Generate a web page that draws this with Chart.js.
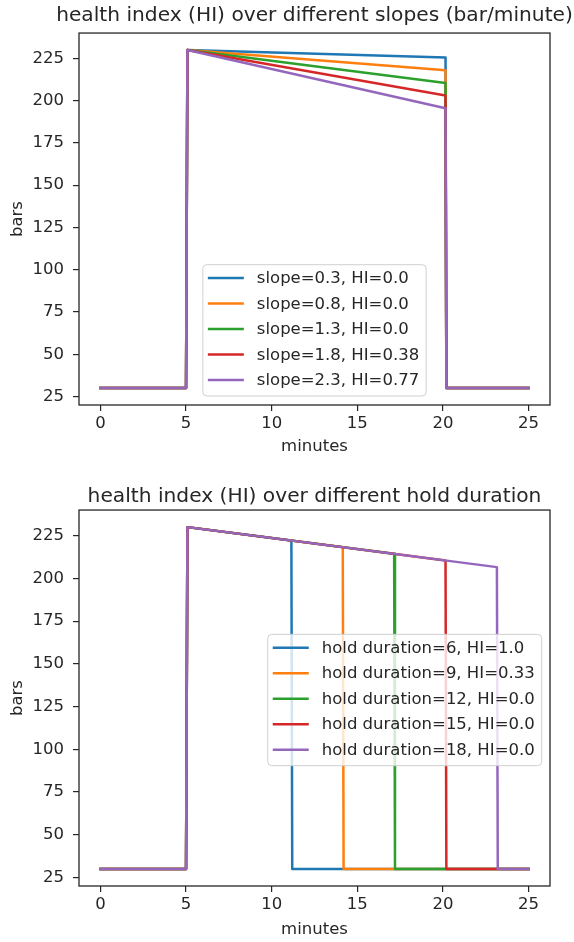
<!DOCTYPE html>
<html>
<head>
<meta charset="utf-8">
<title>health index (HI)</title>
<script src="https://cdn.jsdelivr.net/npm/chart.js@4"></script>
<style>
  html, body { margin: 0; padding: 0; background: #fff; }
  canvas { display: block; }
</style>
</head>
<body>
<canvas id="slopeChart" width="574" height="471"></canvas>
<canvas id="holdChart" width="574" height="471"></canvas>
<script>
// ---- data ----
const baseBars = 30            // bars before and after the hold
const peakBars = 230           // bars at the start of the hold
const riseMinutes = [5, 5.08]  // pressure goes up here

// top chart: different slopes
const slopes = [0.3, 0.8, 1.3, 1.8, 2.3]
const slopeHI = ['0.0', '0.0', '0.0', '0.38', '0.77']
const slopeEndBars = [225.5, 218, 210.5, 203, 195.5]
const slopeEndMinutes = [20.15, 20.15, 20.15, 20.15, 20.15]
const slopeDropMinutes = [20.2, 20.2, 20.2, 20.2, 20.2]

// bottom chart: different hold durations (slope 1.3)
const holdDurations = [6, 9, 12, 15, 18]
const holdHI = ['1.0', '0.33', '0.0', '0.0', '0.0']
const holdEndBars = [222.2, 218.3, 214.4, 210.5, 206.6]
const holdEndMinutes = [11.15, 14.15, 17.15, 20.15, 23.15]
const holdDropMinutes = [11.2, 14.2, 17.2, 20.2, 23.2]

const lastMinute = 25
const xTicks = [0, 5, 10, 15, 20, 25]
const yTicks = [25, 50, 75, 100, 125, 150, 175, 200, 225]

// matplotlib tab10
const colors = ['#1f77b4', '#ff7f0e', '#2ca02c', '#d62728', '#9467bd']
const ink = '#262626'
const FONT = 'DejaVu Sans'

function profile(endMinute, endBars, dropMinute) {
  return [
    { x: 0, y: baseBars },
    { x: riseMinutes[0], y: baseBars },
    { x: riseMinutes[1], y: peakBars },
    { x: endMinute, y: endBars },
    { x: dropMinute, y: baseBars },
    { x: lastMinute, y: baseBars },
  ]
}

/**
 * Box around the plot area like matplotlib spines
 */
const framePlugin = {
  id: 'frame',
  afterDatasetsDraw(chart) {
    const { ctx, chartArea: a } = chart
    ctx.save()
    ctx.strokeStyle = ink
    ctx.lineWidth = 1.3
    ctx.strokeRect(a.left, a.top, a.right - a.left, a.bottom - a.top)
    ctx.restore()
  },
}

/**
 * Center the title over the axes, not the canvas
 */
const titleCenterPlugin = {
  id: 'titleCenter',
  afterLayout(chart) {
    const tb = chart.titleBlock
    if (!tb) return
    const cx = (chart.chartArea.left + chart.chartArea.right) / 2
    const w = chart.width
    tb.left = cx - w / 2
    tb.right = cx + w / 2
  },
}

/**
 * Legend drawn inside the plot area (matplotlib style)
 */
const innerLegendPlugin = {
  id: 'innerLegend',
  afterDraw(chart, args, opts) {
    const { ctx, chartArea: a } = chart
    const sets = chart.data.datasets
    const fontSize = 16.5
    const rowGap = 25.5
    const padTop = 13.3
    const padBottom = 16
    const handle = 36
    ctx.save()
    ctx.font = `${fontSize}px '${FONT}'`
    const textW = Math.max(...sets.map(ds => ctx.measureText(ds.label).width))
    const w = 5 + handle + 13 + textW + 7
    const h = padTop + rowGap * (sets.length - 1) + padBottom
    let left, top
    if (opts.loc === 'lower center') {
      left = (a.left + a.right) / 2 - w / 2
      top = a.bottom - 9 - h
    } else {
      left = a.right - 8.3 - w
      top = (a.top + a.bottom) / 2 - h / 2 + 2
    }
    ctx.beginPath()
    ctx.roundRect(left, top, w, h, 4)
    ctx.fillStyle = 'rgba(255,255,255,0.8)'
    ctx.fill()
    ctx.strokeStyle = '#d0d0d0'
    ctx.lineWidth = 1
    ctx.stroke()
    sets.forEach((ds, i) => {
      const y = top + padTop + i * rowGap
      ctx.beginPath()
      ctx.moveTo(left + 5, y)
      ctx.lineTo(left + 5 + handle, y)
      ctx.strokeStyle = ds.borderColor
      ctx.lineWidth = 2.5
      ctx.stroke()
      ctx.fillStyle = ink
      ctx.textBaseline = 'middle'
      ctx.textAlign = 'left'
      ctx.fillText(ds.label, left + 5 + handle + 13, y + 1)
    })
    ctx.restore()
  },
}

function makeChart(canvasId, cfg) {
  const canvas = document.getElementById(canvasId)
  const tickFont = { family: FONT, size: 16.5 }
  const datasets = cfg.series.map((points, i) => ({
    label: cfg.labels[i],
    data: points,
    borderColor: colors[i],
    backgroundColor: colors[i],
    borderWidth: 2.5,
    pointRadius: 0,
    tension: 0,
    fill: false,
    borderCapStyle: 'square',
    borderJoinStyle: 'round',
    order: cfg.series.length - i, // later series on top, like matplotlib
  }))

  return new Chart(canvas.getContext('2d'), {
    type: 'line',
    data: { datasets },
    plugins: [framePlugin, titleCenterPlugin, innerLegendPlugin],
    options: {
      responsive: false,
      devicePixelRatio: 1,
      animation: false,
      events: [],
      layout: { padding: { left: 0, right: 24, top: 0, bottom: cfg.bottomPad } },
      plugins: {
        legend: { display: false },
        tooltip: { enabled: false },
        title: {
          display: true,
          text: cfg.title,
          color: ink,
          font: { family: FONT, size: 20.2, weight: 'normal', lineHeight: 1.2 },
          padding: cfg.titlePad,
        },
        innerLegend: { loc: cfg.legendLoc },
      },
      scales: {
        x: {
          type: 'linear',
          min: -1.25,
          max: 26.25,
          afterBuildTicks: s => { s.ticks = xTicks.map(v => ({ value: v })) },
          afterFit: s => { s.height = cfg.xAxisHeight },
          grid: { display: true, drawOnChartArea: false, drawTicks: true, tickLength: 6, color: ink, lineWidth: 1.2 },
          border: { display: false },
          ticks: { color: ink, font: tickFont, padding: 3, maxRotation: 0, autoSkip: false },
          title: { display: true, text: 'minutes', color: ink, font: tickFont, padding: { top: 0, bottom: 0 } },
        },
        y: {
          type: 'linear',
          min: 20,
          max: 240,
          afterBuildTicks: s => { s.ticks = yTicks.map(v => ({ value: v })) },
          afterFit: s => { s.width = 79 },
          grid: { display: true, drawOnChartArea: false, drawTicks: true, tickLength: 6, color: ink, lineWidth: 1.2 },
          border: { display: false },
          ticks: { color: ink, font: tickFont, padding: 9, autoSkip: false },
          title: { display: true, text: 'bars', color: ink, font: tickFont, padding: { top: 8, bottom: 0 } },
        },
      },
    },
  })
}

makeChart('slopeChart', {
  title: 'health index (HI) over different slopes (bar/minute)',
  labels: slopes.map((s, i) => `slope=${s}, HI=${slopeHI[i]}`),
  series: slopes.map((s, i) => profile(slopeEndMinutes[i], slopeEndBars[i], slopeDropMinutes[i])),
  legendLoc: 'lower center',
  titlePad: { top: 3.9, bottom: 4.9 },
  xAxisHeight: 52,
  bottomPad: 14,
})

makeChart('holdChart', {
  title: 'health index (HI) over different hold duration',
  labels: holdDurations.map((d, i) => `hold duration=${d}, HI=${holdHI[i]}`),
  series: holdDurations.map((d, i) => profile(holdEndMinutes[i], holdEndBars[i], holdDropMinutes[i])),
  legendLoc: 'center right',
  titlePad: { top: 13.9, bottom: 0.9 },
  xAxisHeight: 54,
  bottomPad: 2,
})
</script>
</body>
</html>
